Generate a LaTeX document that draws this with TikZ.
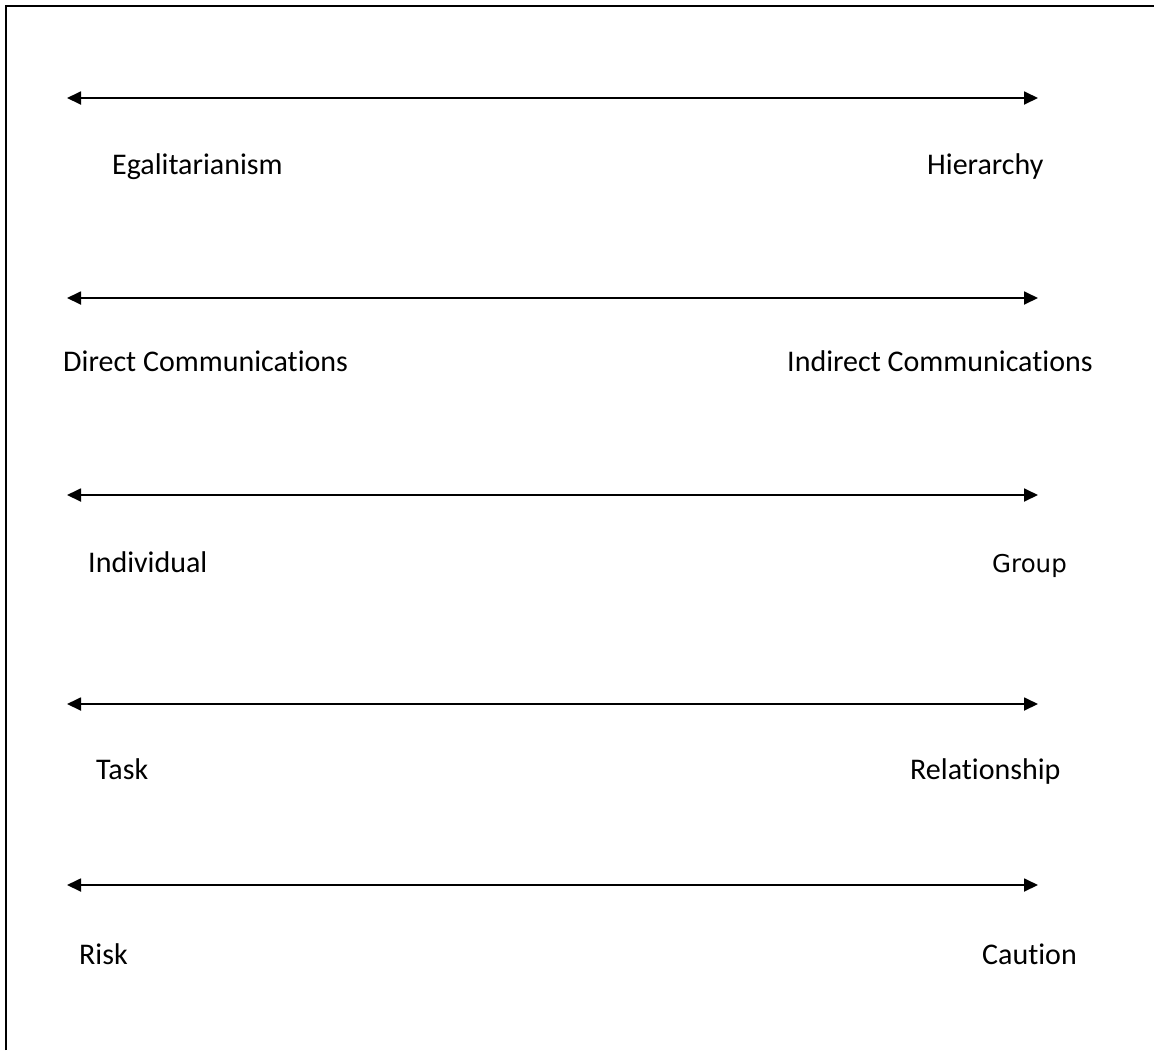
\documentclass[tikz,border=0pt]{standalone}
\usepackage{fontspec}
\setmainfont{Carlito}[Ligatures=NoCommon]
\newfontfamily\altfont{DejaVu Sans}
\usetikzlibrary{arrows.meta}
\begin{document}
\begin{tikzpicture}[x=1pt,y=-1pt,
  scale line/.style={line width=1.8pt,{Triangle[length=14pt,width=13pt]}-{Triangle[length=14pt,width=13pt]}},
  label/.style={anchor=base west,inner sep=0pt,font=\fontsize{30}{36}\selectfont},
  frame/.style={line width=2.5pt}]
\useasboundingbox (0,0) rectangle (1154,1050);
% open frame: left and top edges only
\draw[frame] (6,1050) -- (6,6) -- (1154,6);
% the five scales
\foreach \i/\y in {1/98,2/298,3/495,4/704,5/885}{
  \coordinate (l\i) at (67,\y);
  \coordinate (r\i) at (1038,\y);
  \draw[scale line] (l\i) -- (r\i);
}
% end labels
\node[label] (egal) at (112,174) {Egalitarianism};
\node[label] (hier) at (927,174) {Hierarchy};
\node[label] (dir)  at (63,371)  {Direct Communications};
\node[label] (ind)  at (787,371) {Indirect Communications};
\node[label] (indv) at (88,572)  {Individual};
\node[label,font=\altfont\fontsize{24.5}{30}\selectfont] (grp) at (992,572) {Group};
\node[label] (task) at (96,779)  {Task};
\node[label] (rel)  at (910,779) {Relationship};
\node[label] (risk) at (79,964)  {Risk};
\node[label] (caut) at (982,964) {Caution};
\end{tikzpicture}
\end{document}
